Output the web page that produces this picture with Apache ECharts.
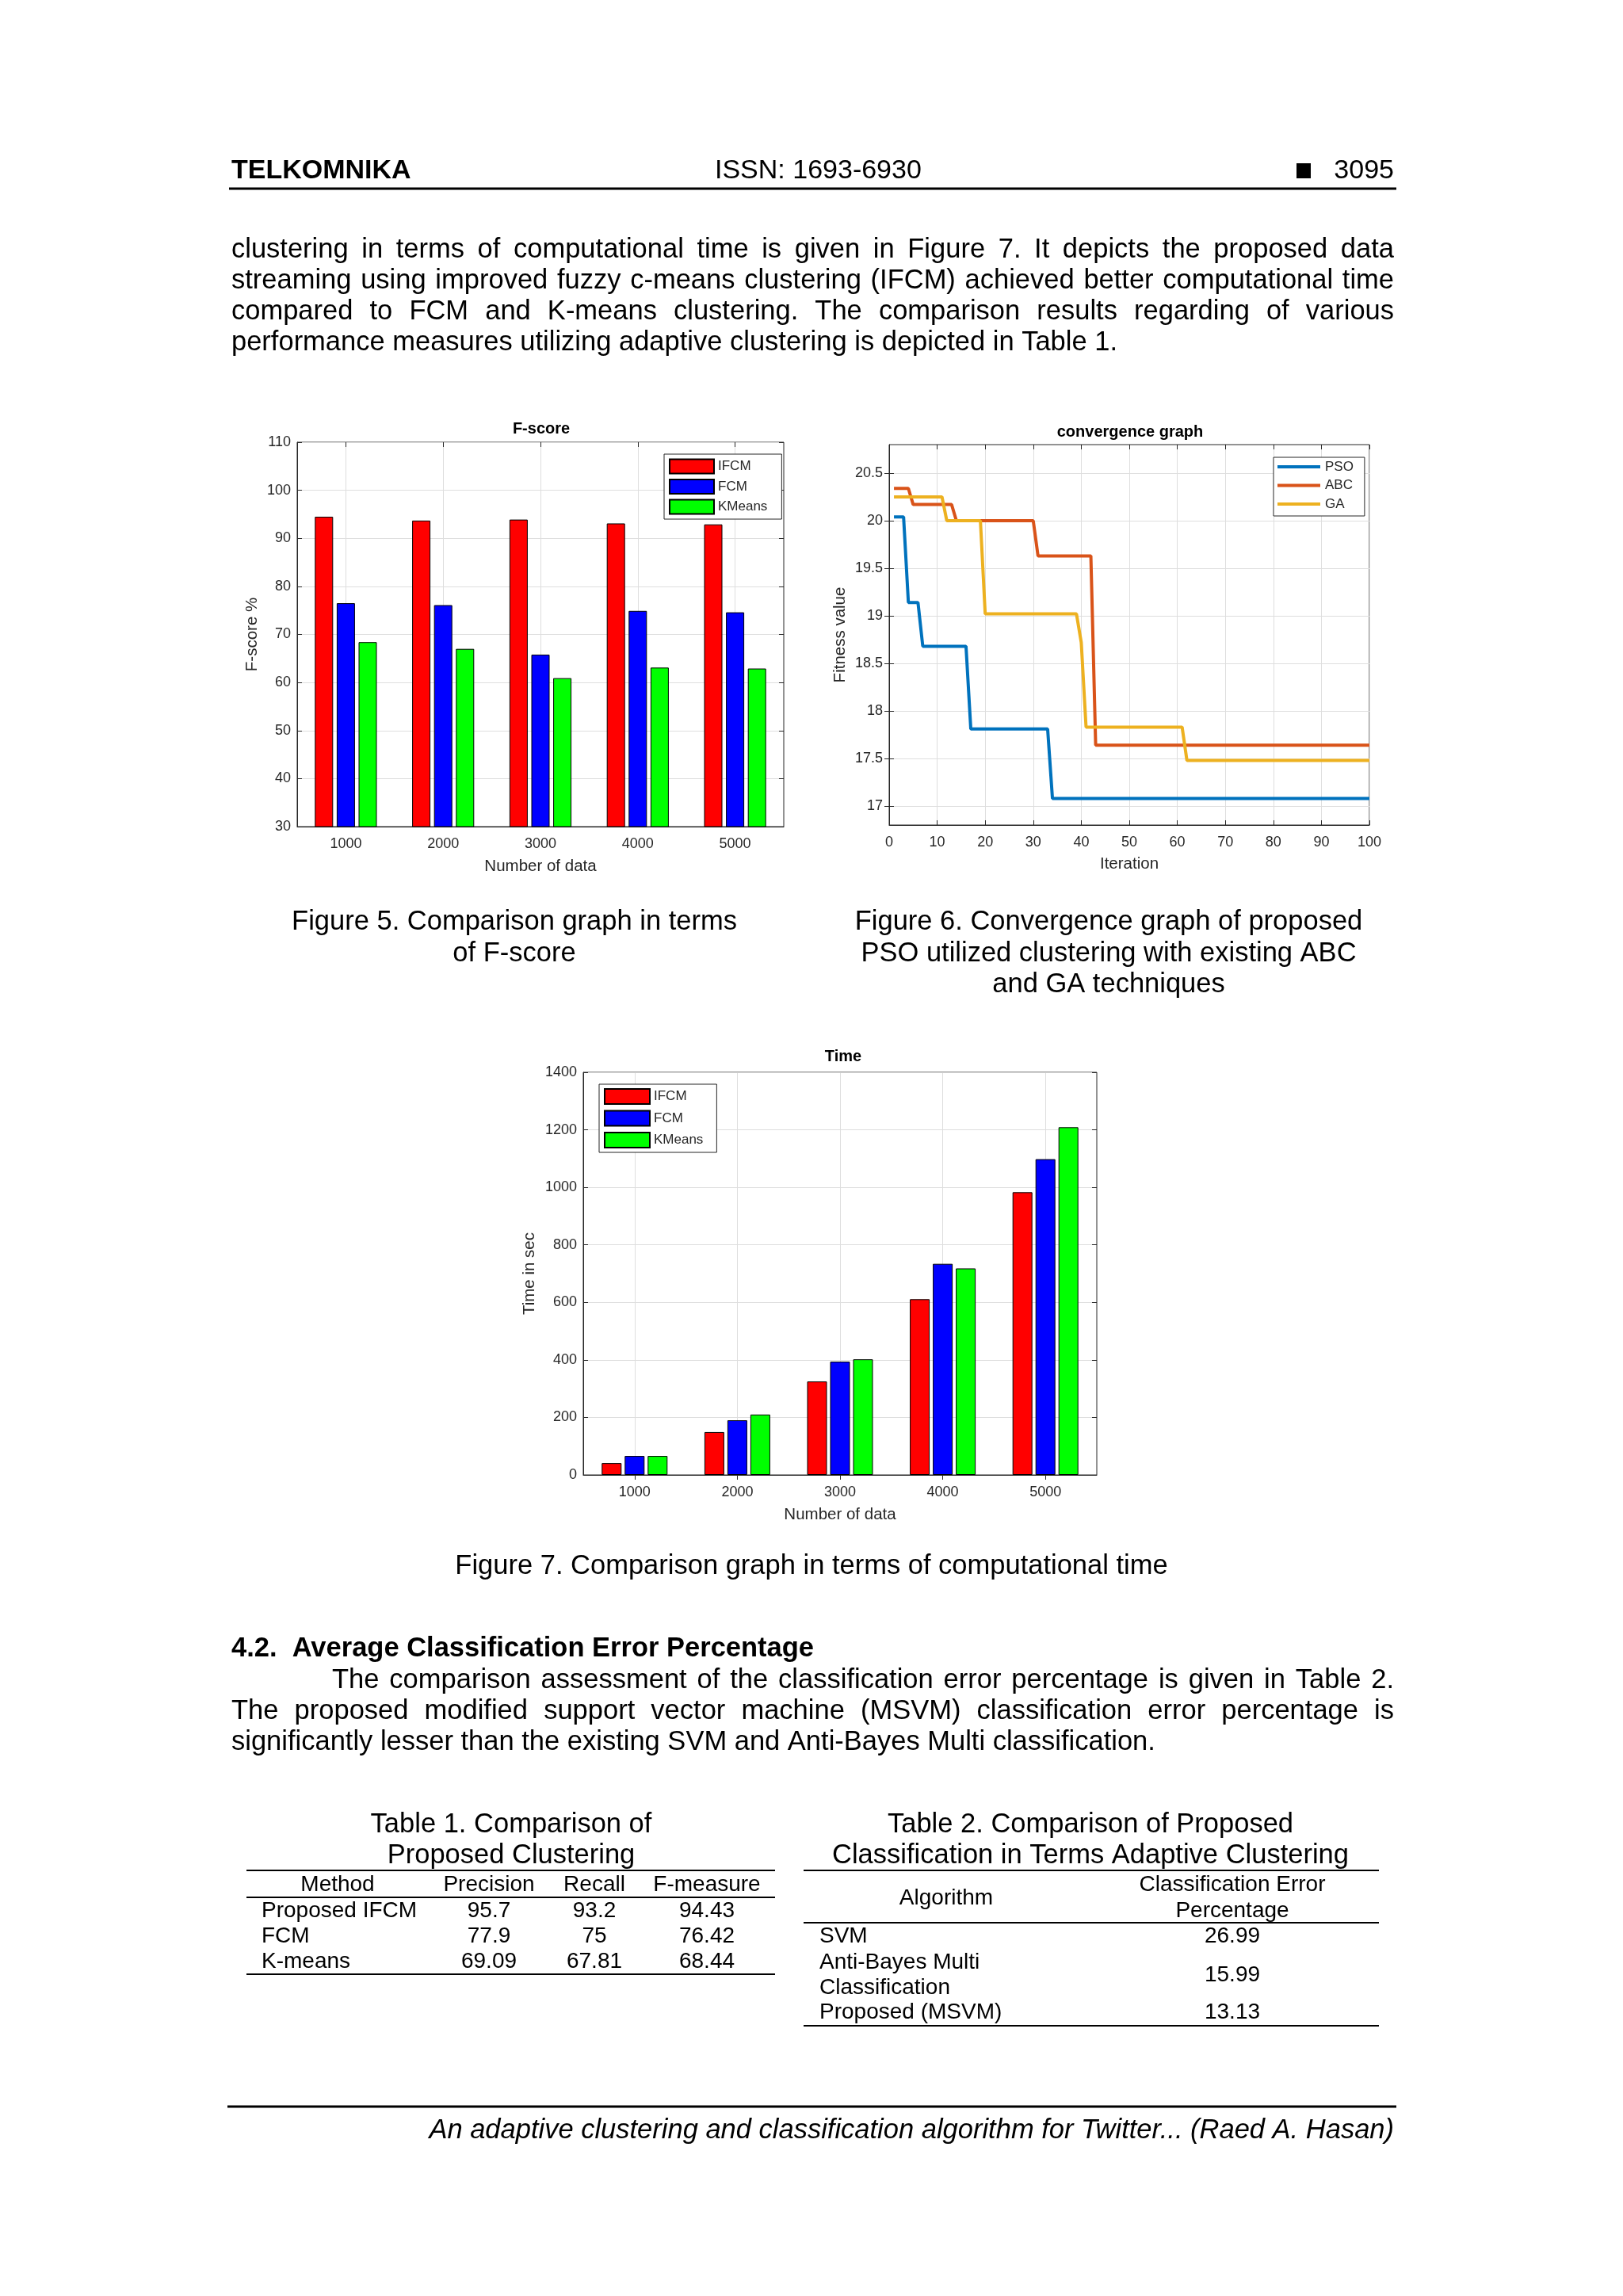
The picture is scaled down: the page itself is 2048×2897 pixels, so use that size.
<!DOCTYPE html>
<html>
<head>
<meta charset="utf-8">
<script src="https://cdn.jsdelivr.net/npm/echarts@6/dist/echarts.min.js"></script>
<style>
  html, body { margin: 0; padding: 0; background: #ffffff; }
  #page { width: 2048px; height: 2897px; }
</style>
</head>
<body>
<div id="page"></div>
<script>
// ---------------- DATA ----------------
const categories = ['1000', '2000', '3000', '4000', '5000'];
const seriesNames = ['IFCM', 'FCM', 'KMeans'];
const fscoreIFCM = [94.5, 93.7, 93.9, 93.1, 92.9];
const fscoreFCM = [76.5, 76.1, 65.8, 74.9, 74.6];
const fscoreKMeans = [68.4, 67.0, 60.9, 63.1, 62.9];
const timeIFCM = [41, 149, 325, 611, 983];
const timeFCM = [66, 190, 394, 734, 1098];
const timeKMeans = [66, 210, 402, 718, 1209];
const lineNames = ['PSO', 'ABC', 'GA'];
const psoSteps = [[1, 20.04], [3, 20.04], [4, 19.14], [6, 19.14], [7, 18.68], [16, 18.68], [17, 17.81], [33, 17.81], [34, 17.08], [100, 17.08]];
const abcSteps = [[1, 20.34], [4, 20.34], [5, 20.17], [13, 20.17], [14, 20.0], [30, 20.0], [31, 19.63], [42, 19.63], [43, 17.64], [100, 17.64]];
const gaSteps = [[1, 20.25], [11, 20.25], [12, 20.0], [19, 20.0], [20, 19.02], [39, 19.02], [40, 18.72], [41, 17.83], [61, 17.83], [62, 17.48], [100, 17.48]];
const fitnessTicks = [17, 17.5, 18, 18.5, 19, 19.5, 20, 20.5];

const table1Header = ['Method', 'Precision', 'Recall', 'F-measure'];
const table1Rows = [
  ['Proposed IFCM', '95.7', '93.2', '94.43'],
  ['FCM', '77.9', '75', '76.42'],
  ['K-means', '69.09', '67.81', '68.44']
];
const table2Rows = [
  [['SVM'], '26.99'],
  [['Anti-Bayes Multi', 'Classification'], '15.99'],
  [['Proposed (MSVM)'], '13.13']
];

const para1 = [
  'clustering in terms of computational time is given in Figure 7. It depicts the proposed data',
  'streaming using improved fuzzy c-means clustering (IFCM) achieved better computational time',
  'compared to FCM and K-means clustering. The comparison results regarding of various',
  'performance measures utilizing adaptive clustering is depicted in Table 1.'
];
const para2 = [
  'The comparison assessment of the classification error percentage is given in Table 2.',
  'The proposed modified support vector machine (MSVM) classification error percentage is',
  'significantly lesser than the existing SVM and Anti-Bayes Multi classification.'
];

// ---------------- HELPERS ----------------
const FONT = 'Liberation Sans';
const measureCtx = document.createElement('canvas').getContext('2d');
function txt(text, x, y, size, opts) {
  opts = opts || {};
  return {
    type: 'text', x: x, y: y, silent: true,
    style: {
      text: text, fontSize: size, fontFamily: FONT,
      fontWeight: opts.weight || 'normal', fontStyle: opts.italic ? 'italic' : 'normal',
      fill: opts.color || '#000', align: opts.align || 'left', verticalAlign: 'middle'
    }
  };
}
function justified(text, x0, x1, y, size) {
  measureCtx.font = 'normal normal ' + size + 'px "' + FONT + '"';
  const words = text.split(' ');
  const widths = words.map(w => measureCtx.measureText(w).width);
  const total = widths.reduce((a, b) => a + b, 0);
  const gap = (x1 - x0 - total) / (words.length - 1);
  const els = [];
  let x = x0;
  words.forEach((w, i) => { els.push(txt(w, x, y, size)); x += widths[i] + gap; });
  return els;
}
function hline(x1, x2, y, w) {
  return { type: 'line', silent: true, shape: { x1: x1, y1: y, x2: x2, y2: y }, style: { stroke: '#000', lineWidth: w || 2 } };
}

// ---------------- PAGE TEXT ----------------
const L = 292, R = 1759, BODY = 34.5;
const g = [];
g.push(txt('TELKOMNIKA', L, 216, 34, { weight: 'bold' }));
g.push(txt('ISSN: 1693-6930', 902, 216, 34));
g.push(txt('3095', R, 216, 34, { align: 'right' }));
g.push({ type: 'rect', silent: true, shape: { x: 1636, y: 206, width: 18, height: 19 }, style: { fill: '#000' } });
g.push(hline(289, 1762, 238, 3));

const p1y = [315, 354, 393, 432];
para1.forEach((line, i) => {
  if (i < para1.length - 1) g.push(...justified(line, L, R, p1y[i], BODY));
  else g.push(txt(line, L, p1y[i], BODY));
});

// chart titles
const CT = '#000';
g.push(txt('F-score', 683, 541, 20, { weight: 'bold', align: 'center', color: CT }));
g.push(txt('convergence graph', 1426, 545, 20, { weight: 'bold', align: 'center', color: CT }));
g.push(txt('Time', 1064, 1333, 20, { weight: 'bold', align: 'center', color: CT }));

// captions
g.push(txt('Figure 5. Comparison graph in terms', 649, 1163, BODY, { align: 'center' }));
g.push(txt('of F-score', 649, 1203, BODY, { align: 'center' }));
g.push(txt('Figure 6. Convergence graph of proposed', 1399, 1163, BODY, { align: 'center' }));
g.push(txt('PSO utilized clustering with existing ABC', 1399, 1203, BODY, { align: 'center' }));
g.push(txt('and GA techniques', 1399, 1242, BODY, { align: 'center' }));
g.push(txt('Figure 7. Comparison graph in terms of computational time', 1024, 1976, BODY, { align: 'center' }));

// section
g.push(txt('4.2.  Average Classification Error Percentage', L, 2080, BODY, { weight: 'bold' }));
const p2y = [2120, 2159, 2198];
g.push(...justified(para2[0], 419, R, p2y[0], BODY));
g.push(...justified(para2[1], L, R, p2y[1], BODY));
g.push(txt(para2[2], L, p2y[2], BODY));

// Table 1
const TS = 28;
g.push(txt('Table 1. Comparison of', 645, 2302, BODY, { align: 'center' }));
g.push(txt('Proposed Clustering', 645, 2341, BODY, { align: 'center' }));
g.push(hline(311, 978, 2360, 2));
g.push(hline(311, 978, 2394, 2));
g.push(hline(311, 978, 2491, 2));
const t1cols = [426, 617, 750, 892];
table1Header.forEach((h, i) => g.push(txt(h, t1cols[i], 2378, TS, { align: 'center' })));
const t1y = [2411, 2443, 2475];
table1Rows.forEach((row, r) => {
  g.push(txt(row[0], 330, t1y[r], TS));
  for (let c = 1; c < 4; c++) g.push(txt(row[c], t1cols[c], t1y[r], TS, { align: 'center' }));
});

// Table 2
g.push(txt('Table 2. Comparison of Proposed', 1376, 2302, BODY, { align: 'center' }));
g.push(txt('Classification in Terms Adaptive Clustering', 1376, 2341, BODY, { align: 'center' }));
g.push(hline(1014, 1740, 2360, 2));
g.push(hline(1014, 1740, 2426, 2));
g.push(hline(1014, 1740, 2556, 2));
g.push(txt('Algorithm', 1194, 2395, TS, { align: 'center' }));
g.push(txt('Classification Error', 1555, 2378, TS, { align: 'center' }));
g.push(txt('Percentage', 1555, 2411, TS, { align: 'center' }));
const t2y = [[2443], [2476, 2508], [2539]];
const t2vy = [2443, 2492, 2539];
table2Rows.forEach((row, r) => {
  row[0].forEach((s, k) => g.push(txt(s, 1034, t2y[r][k], TS)));
  g.push(txt(row[1], 1555, t2vy[r], TS, { align: 'center' }));
});

// footer
g.push(hline(287, 1762, 2658, 3));
g.push(txt('An adaptive clustering and classification algorithm for Twitter... (Raed A. Hasan)', R, 2688, BODY, { italic: true, align: 'right' }));

// ---------------- CHART ----------------
const AX = '#262626', GRIDC = '#dedede', TK = 18, NM = 20.5;
const noComma = v => String(v);
function catX(gridIndex) {
  return {
    type: 'category', gridIndex: gridIndex, data: categories, boundaryGap: true,
    name: 'Number of data', nameLocation: 'middle', nameGap: 40,
    nameTextStyle: { fontSize: NM, color: AX, fontFamily: FONT },
    axisLine: { show: true, lineStyle: { color: AX, width: 1 } },
    axisTick: { show: true, inside: true, alignWithLabel: true, length: 6, lineStyle: { color: AX } },
    axisLabel: { fontSize: TK, color: AX, fontFamily: FONT, margin: 13 },
    splitLine: { show: true, alignWithLabel: true, lineStyle: { color: GRIDC, width: 1 } }
  };
}
function catXTop(gridIndex) {
  return {
    type: 'category', gridIndex: gridIndex, data: categories, boundaryGap: true, position: 'top',
    axisLine: { show: false }, axisLabel: { show: false }, splitLine: { show: false },
    axisTick: { show: true, inside: true, alignWithLabel: true, length: 6, lineStyle: { color: AX } }
  };
}
function valY(gridIndex, name, gap, min, max, interval) {
  return {
    type: 'value', gridIndex: gridIndex, min: min, max: max, interval: interval,
    name: name, nameLocation: 'middle', nameGap: gap,
    nameTextStyle: { fontSize: NM, color: AX, fontFamily: FONT },
    axisLine: { show: true, lineStyle: { color: AX, width: 1 } },
    axisTick: { show: true, inside: true, length: 6, lineStyle: { color: AX } },
    axisLabel: { fontSize: TK, color: AX, fontFamily: FONT, margin: 8, formatter: noComma },
    splitLine: { show: true, lineStyle: { color: GRIDC, width: 1 } }
  };
}
function valYRight(gridIndex, min, max, interval) {
  return {
    type: 'value', gridIndex: gridIndex, min: min, max: max, interval: interval, position: 'right',
    axisLine: { show: false }, axisLabel: { show: false }, splitLine: { show: false },
    axisTick: { show: true, inside: true, length: 6, lineStyle: { color: AX } }
  };
}
const barColors = ['#ff0000', '#0000ff', '#00ff00'];
const lineColors = ['#0072bd', '#d95319', '#edb120'];
function bars(values, xi, width, gap) {
  return values.map((v, i) => ({
    type: 'bar', name: seriesNames[i], xAxisIndex: xi, yAxisIndex: xi, data: v,
    barWidth: width, barGap: gap, silent: true, animation: false,
    itemStyle: { color: barColors[i], borderColor: '#000', borderWidth: 1 }
  }));
}
function legendCfg(data, left, top, iw, ih, gapY, pad, textPad) {
  return {
    data: data, orient: 'vertical', left: left, top: top, itemWidth: iw, itemHeight: ih, itemGap: gapY,
    padding: pad, borderColor: AX, borderWidth: 1, backgroundColor: '#ffffff', selectedMode: false,
    icon: 'rect',
    textStyle: { fontSize: 17, color: AX, fontFamily: FONT, padding: [0, 0, 0, textPad] }
  };
}

const fitY = valY(1, 'Fitness value', 51, 16.8, 20.8, null);
delete fitY.interval;
fitY.axisLabel.customValues = fitnessTicks;
fitY.axisTick.customValues = fitnessTicks;
const fitYR = valYRight(1, 16.8, 20.8, null);
delete fitYR.interval;
fitYR.axisTick.customValues = fitnessTicks;

const option = {
  backgroundColor: '#ffffff',
  animation: false,
  textStyle: { fontFamily: FONT },
  grid: [
    { left: 375, top: 558, width: 614, height: 485, show: true, borderColor: AX, borderWidth: 1, backgroundColor: 'transparent' },
    { left: 1122, top: 561, width: 606, height: 480, show: true, borderColor: AX, borderWidth: 1, backgroundColor: 'transparent' },
    { left: 736, top: 1353, width: 648, height: 508, show: true, borderColor: AX, borderWidth: 1, backgroundColor: 'transparent' }
  ],
  xAxis: [
    catX(0),
    {
      type: 'value', gridIndex: 1, min: 0, max: 100, interval: 10,
      name: 'Iteration', nameLocation: 'middle', nameGap: 39,
      nameTextStyle: { fontSize: NM, color: AX, fontFamily: FONT },
      axisLine: { show: true, lineStyle: { color: AX, width: 1 } },
      axisTick: { show: true, inside: true, length: 6, lineStyle: { color: AX } },
      axisLabel: { fontSize: TK, color: AX, fontFamily: FONT, margin: 13 },
      splitLine: { show: true, lineStyle: { color: GRIDC, width: 1 } }
    },
    catX(2),
    catXTop(0),
    {
      type: 'value', gridIndex: 1, min: 0, max: 100, interval: 10, position: 'top',
      axisLine: { show: false }, axisLabel: { show: false }, splitLine: { show: false },
      axisTick: { show: true, inside: true, length: 6, lineStyle: { color: AX } }
    },
    catXTop(2)
  ],
  yAxis: [
    valY(0, 'F-score %', 46, 30, 110, 10),
    fitY,
    valY(2, 'Time in sec', 57, 0, 1400, 200),
    valYRight(0, 30, 110, 10),
    fitYR,
    valYRight(2, 0, 1400, 200)
  ],
  legend: [
    legendCfg(seriesNames, 838, 573, 56, 18, 5.5, [5.5, 18, 5.5, 6], 0),
    legendCfg(lineNames, 1607, 577, 54, 4, 6.5, [3.5, 14, 6.5, 5], 1),
    legendCfg(seriesNames, 756, 1368, 57, 19, 6.5, [5, 17, 5, 6], 0)
  ],
  series: [
    ...bars([fscoreIFCM, fscoreFCM, fscoreKMeans], 0, 23, '20%'),
    ...[psoSteps, abcSteps, gaSteps].map((d, i) => ({
      type: 'line', name: lineNames[i], xAxisIndex: 1, yAxisIndex: 1, data: d,
      symbol: 'none', silent: true, animation: false,
      lineStyle: { color: lineColors[i], width: 4 }, itemStyle: { color: lineColors[i] }
    })),
    ...bars([timeIFCM, timeFCM, timeKMeans], 2, 25, '16%')
  ],
  graphic: { elements: g }
};

const chart = echarts.init(document.getElementById('page'), null, { renderer: 'canvas', width: 2048, height: 2897 });
chart.setOption(option);
</script>
</body>
</html>
